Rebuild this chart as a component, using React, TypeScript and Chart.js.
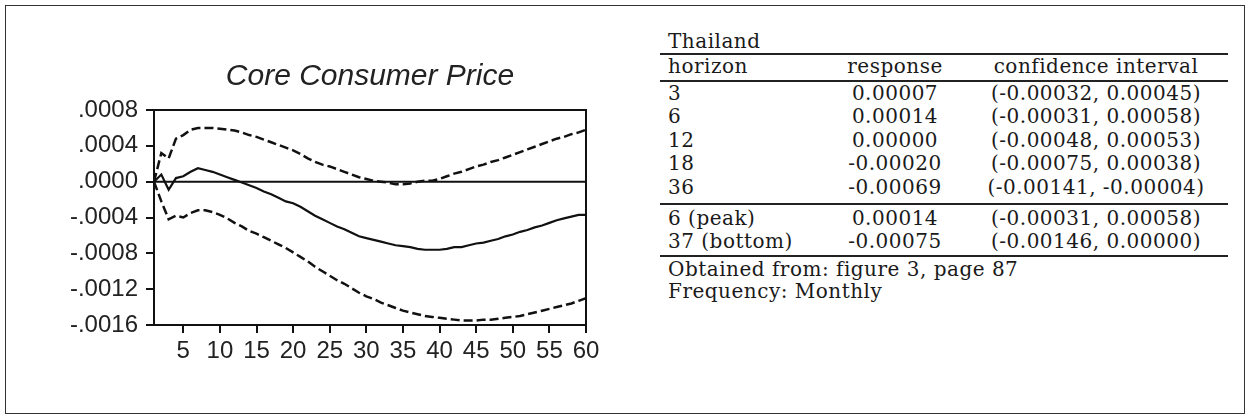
import React, { useEffect, useRef } from 'react';
import { Chart, registerables } from 'chart.js';

Chart.register(...registerables);

// ---------- chart data ----------
const horizons = [
  1, 2, 3, 4, 5, 6, 7, 8, 9, 10, 11, 12, 13, 14, 15, 16, 17, 18, 19, 20,
  21, 22, 23, 24, 25, 26, 27, 28, 29, 30, 31, 32, 33, 34, 35, 36, 37, 38, 39, 40,
  41, 42, 43, 44, 45, 46, 47, 48, 49, 50, 51, 52, 53, 54, 55, 56, 57, 58, 59, 60,
];

const responseSeries = [
  0, 0.00008, -0.00009, 0.00004, 0.00006, 0.00011, 0.00015, 0.00013, 0.00011, 0.00008,
  0.00005, 0.00002, -0.00001, -0.00004, -0.00007, -0.00011, -0.00014, -0.00018, -0.00022, -0.00024,
  -0.00028, -0.00033, -0.00038, -0.00042, -0.00046, -0.0005, -0.00053, -0.00057, -0.00061, -0.00063,
  -0.00065, -0.00067, -0.00069, -0.00071, -0.00072, -0.00073, -0.00075, -0.00076, -0.00076, -0.00076,
  -0.00075, -0.00073, -0.00073, -0.00071, -0.00069, -0.00068, -0.00066, -0.00064, -0.00061, -0.00059,
  -0.00056, -0.00054, -0.00051, -0.00049, -0.00046, -0.00043, -0.00041, -0.00039, -0.00037, -0.00037,
];

const upperBand = [
  0, 0.00032, 0.00026, 0.00048, 0.00052, 0.00058, 0.0006, 0.0006, 0.0006, 0.00059,
  0.00058, 0.00057, 0.00055, 0.00052, 0.0005, 0.00047, 0.00044, 0.00041, 0.00038, 0.00035,
  0.00031, 0.00026, 0.00022, 0.00019, 0.00017, 0.00014, 0.00011, 0.00008, 0.00005, 0.00003,
  0.00001, 0, -0.00001, -0.00003, -0.00003, -0.00002, 0, 0.00001, 0.00001, 0.00003,
  0.00006, 0.00009, 0.00011, 0.00014, 0.00017, 0.00019, 0.00022, 0.00024, 0.00027, 0.0003,
  0.00033, 0.00036, 0.00039, 0.00042, 0.00045, 0.00048, 0.0005, 0.00053, 0.00055, 0.00058,
];

const lowerBand = [
  0, -0.00022, -0.00042, -0.00038, -0.0004, -0.00035, -0.00032, -0.00032, -0.00034, -0.00037,
  -0.00041, -0.00046, -0.0005, -0.00055, -0.00058, -0.00062, -0.00066, -0.0007, -0.00074, -0.00079,
  -0.00084, -0.00089, -0.00095, -0.001, -0.00105, -0.0011, -0.00114, -0.00119, -0.00124, -0.00128,
  -0.00131, -0.00135, -0.00138, -0.00141, -0.00144, -0.00146, -0.00148, -0.0015, -0.00151, -0.00152,
  -0.00153, -0.00154, -0.00155, -0.00155, -0.00155, -0.00154, -0.00154, -0.00153, -0.00152, -0.00151,
  -0.0015, -0.00148, -0.00146, -0.00144, -0.00142, -0.0014, -0.00138, -0.00136, -0.00133, -0.0013,
];

const xTickValues = [5, 10, 15, 20, 25, 30, 35, 40, 45, 50, 55, 60];
const yTickValues = [0.0008, 0.0004, 0, -0.0004, -0.0008, -0.0012, -0.0016];
const yTickLabels = ['.0008', '.0004', '.0000', '-.0004', '-.0008', '-.0012', '-.0016'];
const chartTitle = 'Core Consumer Price';

// ---------- table data ----------
const tableCountry = 'Thailand';
const tableHeaders = ['horizon', 'response', 'confidence interval'];
const tableHorizons = ['3', '6', '12', '18', '36'];
const tableResponses = ['0.00007', '0.00014', '0.00000', '-0.00020', '-0.00069'];
const tableIntervals = [
  '(-0.00032, 0.00045)',
  '(-0.00031, 0.00058)',
  '(-0.00048, 0.00053)',
  '(-0.00075, 0.00038)',
  '(-0.00141, -0.00004)',
];
const extremeLabels = ['6 (peak)', '37 (bottom)'];
const extremeResponses = ['0.00014', '-0.00075'];
const extremeIntervals = ['(-0.00031, 0.00058)', '(-0.00146, 0.00000)'];
const tableNotes = ['Obtained from: figure 3, page 87', 'Frequency: Monthly'];

const LINE = '#111';
const SANS = "'Liberation Sans', Arial, sans-serif";
const SERIF = "'DejaVu Serif', serif";

const framePlugin = {
  id: 'frameAndZero',
  beforeDatasetsDraw(chart: any) {
    const { ctx, chartArea: a, scales } = chart;
    const y0 = scales.y.getPixelForValue(0);
    ctx.save();
    ctx.strokeStyle = LINE;
    ctx.lineWidth = 2;
    ctx.beginPath();
    ctx.moveTo(a.left, y0);
    ctx.lineTo(a.right, y0);
    ctx.moveTo(a.left, a.top);
    ctx.lineTo(a.right, a.top);
    ctx.lineTo(a.right, a.bottom);
    ctx.stroke();
    ctx.restore();
  },
};

function IrfChart() {
  const ref = useRef<HTMLCanvasElement | null>(null);
  useEffect(() => {
    if (!ref.current) return;
    const pts = (vals: number[]) => horizons.map((h, i) => ({ x: h, y: vals[i] }));
    const chart = new Chart(ref.current, {
      type: 'line',
      data: {
        datasets: [
          {
            label: 'upper',
            data: pts(upperBand),
            borderColor: LINE,
            borderWidth: 2.5,
            borderDash: [9, 4],
            pointRadius: 0,
            tension: 0,
            fill: false,
          },
          {
            label: 'response',
            data: pts(responseSeries),
            borderColor: LINE,
            borderWidth: 2.2,
            pointRadius: 0,
            tension: 0,
            fill: false,
          },
          {
            label: 'lower',
            data: pts(lowerBand),
            borderColor: LINE,
            borderWidth: 2.5,
            borderDash: [9, 4],
            pointRadius: 0,
            tension: 0,
            fill: false,
          },
        ],
      },
      options: {
        animation: false,
        responsive: false,
        devicePixelRatio: 1,
        layout: { padding: { left: 0, right: 54, top: 0, bottom: 0 } },
        plugins: {
          legend: { display: false },
          tooltip: { enabled: false },
          title: {
            display: true,
            text: chartTitle,
            fullSize: false,
            color: '#222',
            font: { family: SANS, size: 30, style: 'italic', weight: 'normal', lineHeight: 1.2 },
            padding: { top: 58.6, bottom: 15.4 },
          },
        },
        scales: {
          x: {
            type: 'linear',
            min: 1,
            max: 60,
            afterBuildTicks: (scale: any) => {
              scale.ticks = xTickValues.map((v) => ({ value: v }));
            },
            afterFit: (scale: any) => {
              scale.height = 90;
            },
            ticks: {
              autoSkip: false,
              maxRotation: 0,
              padding: 4,
              color: '#222',
              font: { family: SANS, size: 24 },
              callback: (v: any) => String(v),
            },
            grid: {
              drawOnChartArea: false,
              drawTicks: true,
              tickLength: 8,
              color: LINE,
              lineWidth: 2,
            },
            border: { display: true, color: LINE, width: 2 },
          },
          y: {
            type: 'linear',
            min: -0.0016,
            max: 0.0008,
            afterBuildTicks: (scale: any) => {
              scale.ticks = yTickValues.map((v) => ({ value: v }));
            },
            afterFit: (scale: any) => {
              scale.width = 154;
            },
            ticks: {
              autoSkip: false,
              padding: 8,
              color: '#222',
              font: { family: SANS, size: 24 },
              callback: (v: any) => {
                const i = yTickValues.findIndex((t) => Math.abs(t - Number(v)) < 1e-9);
                return i >= 0 ? yTickLabels[i] : '';
              },
            },
            grid: {
              drawOnChartArea: false,
              drawTicks: true,
              tickLength: 8,
              color: LINE,
              lineWidth: 2,
            },
            border: { display: true, color: LINE, width: 2 },
          },
        },
      },
      plugins: [framePlugin],
    } as any);
    return () => chart.destroy();
  }, []);
  return (
    <canvas
      ref={ref}
      width={640}
      height={415}
      style={{ position: 'absolute', left: 0, top: 0, width: 640, height: 415 }}
    />
  );
}

const FS = 20;
const LH = 23;
const BASE_OFF = 18.42; // baseline offset inside a 23px line for DejaVu Serif 20px

function Txt(props: { text: string; baseline: number; left?: number; center?: number; w?: number }) {
  const { text, baseline, left, center, w = 320 } = props;
  const style: React.CSSProperties = {
    position: 'absolute',
    top: baseline - BASE_OFF,
    fontFamily: SERIF,
    fontSize: FS,
    letterSpacing: '0.5px',
    lineHeight: `${LH}px`,
    color: '#1a1a1a',
    whiteSpace: 'nowrap',
  };
  if (center !== undefined) {
    style.left = center - w / 2;
    style.width = w;
    style.textAlign = 'center';
  } else {
    style.left = left;
  }
  return <div style={style}>{text}</div>;
}

function Rule(props: { y: number; h: number }) {
  return (
    <div
      style={{
        position: 'absolute',
        left: 660,
        width: 1228 - 660,
        top: props.y,
        height: props.h,
        background: '#222',
      }}
    />
  );
}

function ResultTable() {
  const colL = 668;
  const col2 = 895;
  const col3 = 1096;
  const rowBase = [100, 123.5, 147, 170.5, 194];
  const extBase = [225, 248.5];
  const noteBase = [276, 298.5];
  return (
    <>
      <Txt text={tableCountry} baseline={48} left={colL} />
      <Rule y={53} h={2} />
      <Txt text={tableHeaders[0]} baseline={73.5} left={colL} />
      <Txt text={tableHeaders[1]} baseline={73.5} center={col2} />
      <Txt text={tableHeaders[2]} baseline={73.5} center={col3} />
      <Rule y={80} h={1.5} />
      {tableHorizons.map((h, i) => (
        <React.Fragment key={'r' + i}>
          <Txt text={h} baseline={rowBase[i]} left={colL} />
          <Txt text={tableResponses[i]} baseline={rowBase[i]} center={col2} />
          <Txt text={tableIntervals[i]} baseline={rowBase[i]} center={col3} />
        </React.Fragment>
      ))}
      <Rule y={203} h={1.5} />
      {extremeLabels.map((h, i) => (
        <React.Fragment key={'e' + i}>
          <Txt text={h} baseline={extBase[i]} left={colL} />
          <Txt text={extremeResponses[i]} baseline={extBase[i]} center={col2} />
          <Txt text={extremeIntervals[i]} baseline={extBase[i]} center={col3} />
        </React.Fragment>
      ))}
      <Rule y={255} h={1.5} />
      {tableNotes.map((n, i) => (
        <Txt key={'n' + i} text={n} baseline={noteBase[i]} left={colL} />
      ))}
    </>
  );
}

export default function App() {
  return (
    <div
      style={{
        position: 'absolute',
        left: 0,
        top: 0,
        width: 1245,
        height: 415,
        background: '#fff',
        overflow: 'hidden',
      }}
    >
      <div
        style={{
          position: 'absolute',
          left: 5,
          top: 5,
          width: 1240,
          height: 409,
          border: '1px solid #333',
          boxSizing: 'border-box',
        }}
      />
      <IrfChart />
      <ResultTable />
    </div>
  );
}
